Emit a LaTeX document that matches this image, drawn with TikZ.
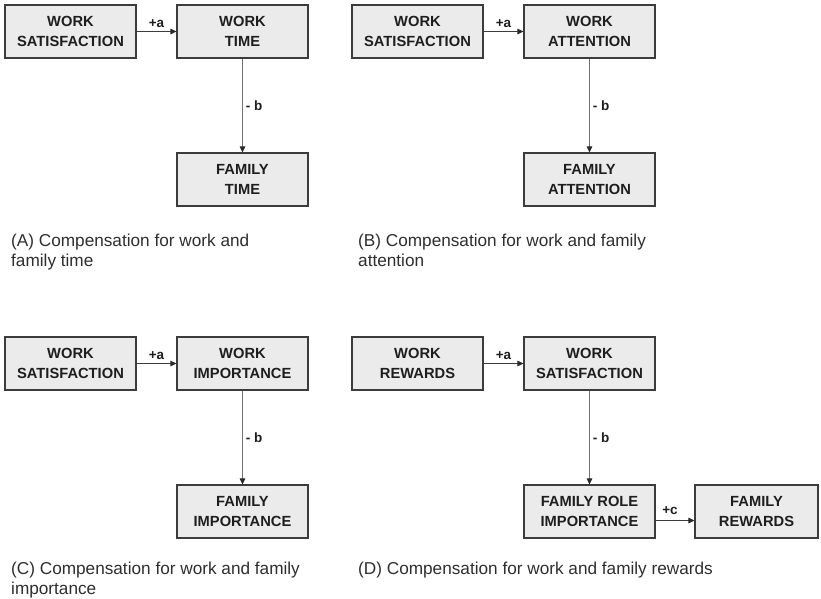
\documentclass[tikz,border=0pt]{standalone}
\usepackage{fontspec}
\setmainfont{Liberation Sans}
\usetikzlibrary{arrows.meta}

\definecolor{boxfill}{HTML}{EBEBEB}
\definecolor{boxline}{HTML}{3C3C3C}
\definecolor{linkgray}{HTML}{707070}
\definecolor{tipgray}{HTML}{2A2A2A}
\definecolor{labeltext}{HTML}{1E1E1E}
\definecolor{captext}{HTML}{2E2E2E}

\begin{document}
\begin{tikzpicture}[x=1pt,y=-1pt,
  box/.style={draw=boxline, fill=boxfill, line width=1.1pt,
    minimum width=131pt, minimum height=53pt, inner sep=0pt, align=center,
    font=\fontsize{14.7}{20.5}\selectfont\bfseries, text=labeltext},
  link/.style={draw=linkgray, line width=0.9pt,
    -{Triangle[length=6pt,width=5.5pt,color=tipgray]}},
  hlink/.style={link, draw=boxline},
  elabel/.style={font=\fontsize{13.5}{15}\selectfont\bfseries, text=labeltext, inner sep=1pt},
  caption/.style={anchor=base west, align=left, inner sep=0pt,
    font=\fontsize{17.2}{20}\selectfont, text=captext}
]
\useasboundingbox (0,0) rectangle (821,598);

% (A) work and family time
\node[box] (aws) at (70.5,31.5)  {WORK\\SATISFACTION};
\node[box] (awt) at (242.5,31.5) {WORK\\TIME};
\node[box] (aft) at (242.5,179.5) {FAMILY\\TIME};
\draw[hlink] (aws) -- node[elabel, above=2pt] {+a} (awt);
\draw[link] (awt) -- node[elabel, right=2pt] {- b} (aft);
\node[caption] (capa) at (11,266) {(A) Compensation for work and\\family time};

% (B) work and family attention
\node[box] (bws) at (417.5,31.5)  {WORK\\SATISFACTION};
\node[box] (bwa) at (589.5,31.5)  {WORK\\ATTENTION};
\node[box] (bfa) at (589.5,179.5) {FAMILY\\ATTENTION};
\draw[hlink] (bws) -- node[elabel, above=2pt] {+a} (bwa);
\draw[link] (bwa) -- node[elabel, right=2pt] {- b} (bfa);
\node[caption] (capb) at (358,266) {(B) Compensation for work and family\\attention};

% (C) work and family importance
\node[box] (cws) at (70.5,363.5)  {WORK\\SATISFACTION};
\node[box] (cwi) at (242.5,363.5) {WORK\\IMPORTANCE};
\node[box] (cfi) at (242.5,511.5) {FAMILY\\IMPORTANCE};
\draw[hlink] (cws) -- node[elabel, above=2pt] {+a} (cwi);
\draw[link] (cwi) -- node[elabel, right=2pt] {- b} (cfi);
\node[caption] (capc) at (11,594) {(C) Compensation for work and family\\importance};

% (D) work and family rewards
\node[box] (dwr) at (417.5,363.5) {WORK\\REWARDS};
\node[box] (dws) at (589.5,363.5) {WORK\\SATISFACTION};
\node[box] (dfri) at (589.5,511.5) {FAMILY ROLE\\IMPORTANCE};
\node[box, minimum width=123pt] (dfr) at (756.5,511.5) {FAMILY\\REWARDS};
\draw[hlink] (dwr) -- node[elabel, above=2pt] {+a} (dws);
\draw[link] (dws) -- node[elabel, right=2pt] {- b} (dfri);
\draw[hlink] ([yshift=-9pt]dfri.east) -- node[elabel, above=4pt, xshift=-5pt] {+c} ([yshift=-9pt]dfr.west);
\node[caption] (capd) at (358,574) {(D) Compensation for work and family rewards};
\end{tikzpicture}
\end{document}
